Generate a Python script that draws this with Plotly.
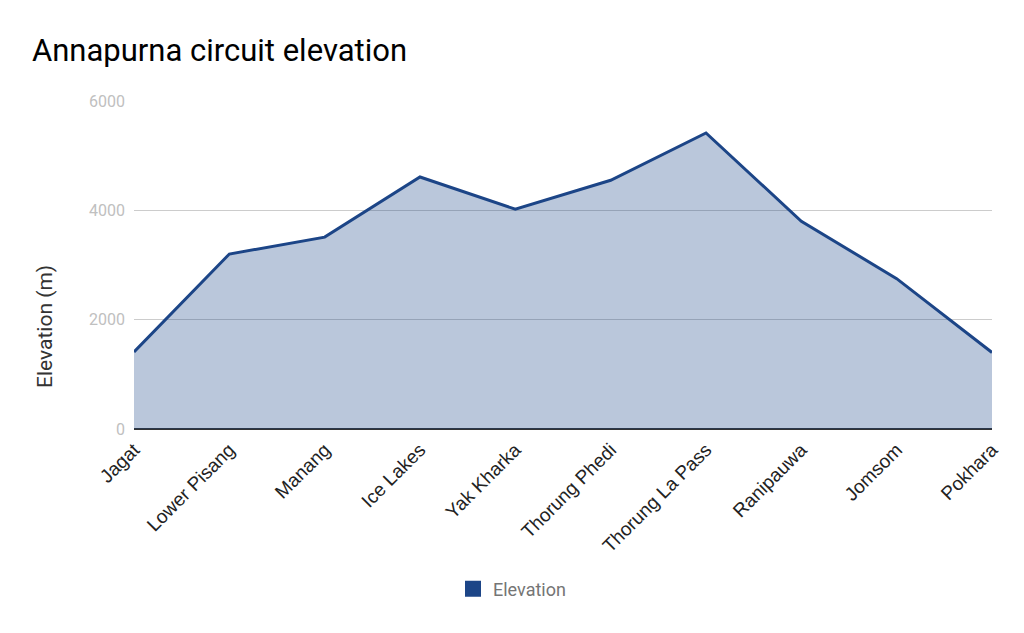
import plotly.graph_objects as go

places = ["Jagat", "Lower Pisang", "Manang", "Ice Lakes", "Yak Kharka",
          "Thorung Phedi", "Thorung La Pass", "Ranipauwa", "Jomsom", "Pokhara"]
elevation = [1410, 3200, 3510, 4610, 4020, 4550, 5416, 3800, 2750, 1400]
y_ticks = [0, 2000, 4000, 6000]

line_col = "#1c4587"
fig = go.Figure()
fig.add_trace(go.Scatter(
    x=places, y=elevation, mode="lines", fill="tozeroy",
    line=dict(color=line_col, width=3),
    fillcolor="rgba(28,69,135,0.3)", showlegend=False, hoverinfo="skip"))
fig.add_trace(go.Scatter(
    x=[None], y=[None], mode="markers", name="Elevation",
    marker=dict(symbol="square", size=20, color=line_col)))

fig.update_layout(
    width=1024, height=633,
    margin=dict(l=134, r=32, t=101, b=204),
    paper_bgcolor="white", plot_bgcolor="white",
    font=dict(family="Roboto", color="#222"),
    title=dict(text="Annapurna circuit elevation", x=32/1024, xanchor="left",
               xref="container", y=1-50/633, yanchor="middle", yref="container",
               font=dict(size=31, color="#000")),
    xaxis=dict(range=[0, 9], showgrid=False, tickangle=-45,
               tickfont=dict(family="Liberation Sans, Arial", size=19, color="#222"),
               ticklabelstandoff=5,
               ticks="", showline=False, zeroline=False),
    yaxis=dict(range=[0, 6000], tickvals=y_ticks, gridcolor="#cccccc",
               gridwidth=1, zeroline=True, zerolinecolor="#333333", zerolinewidth=2,
               tickfont=dict(size=16, color="#c0c0c0"), ticklabelstandoff=8),
    legend=dict(orientation="h", xref="container", yref="container",
                x=0.5, xanchor="center", y=1-589/633, yanchor="middle",
                font=dict(size=18, color="#757575")),
    annotations=[dict(text="Elevation (m)", textangle=-90, showarrow=False,
                      xref="paper", yref="paper", x=(45-134)/858, y=(429-327)/328,
                      xanchor="center", yanchor="middle",
                      font=dict(size=21, color="#333"))],
)
fig.write_html("out.html")
